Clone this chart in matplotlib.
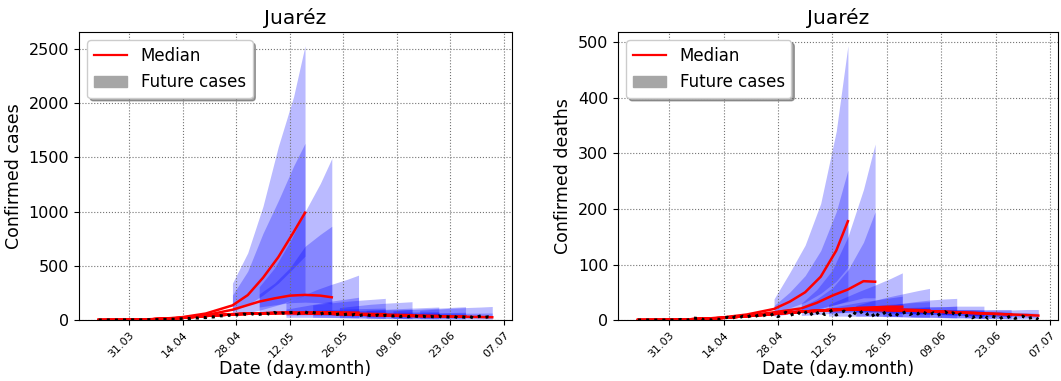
import matplotlib

matplotlib.use("Agg")
import matplotlib.dates as mdates
import matplotlib.pyplot as plt
import numpy as np
from matplotlib.lines import Line2D
from matplotlib.patches import Patch

FIRST_DAY = "2020-03-23"
FC_STARTS = ["2020-04-27", "2020-05-04", "2020-05-11", "2020-05-18",
             "2020-05-25", "2020-06-01", "2020-06-08", "2020-06-15"]
FC_OFFSETS = [0, 4, 8, 12, 16, 19]   # days after each forecast start
FIT_STEP = 7                          # fitted median read weekly from FIRST_DAY
TICK_DATES = ["2020-03-31", "2020-04-14", "2020-04-28", "2020-05-12",
              "2020-05-26", "2020-06-09", "2020-06-23", "2020-07-07"]

# ---- confirmed cases --------------------------------------------------------
CASES_OBS = [0, 0, 0, 1, 0, 0, 1, 1,
             1, 2, 0, 1, 2, 3, 2,
             4, 3, 6, 5, 8, 7, 10,
             12, 15, 14, 20, 18, 25, 22,
             30, 28, 35, 40, 33, 45, 38,
             50, 42, 55, 48, 60, 45, 52,
             58, 62, 50, 70, 55, 65, 60,
             68, 72, 58, 66, 75, 60, 70,
             62, 55, 68, 58, 64, 50, 57,
             48, 55, 45, 52, 40, 47, 50,
             42, 38, 46, 35, 44, 40, 37,
             45, 33, 39, 30, 42, 36, 28,
             35, 25, 32, 28, 38, 24, 30,
             27, 33, 22, 30, 25, 35, 20,
             28, 38, 24, 30, 26]
CASES_FIT = [
    [0, 2, 8, 22, 60],
    [0, 2, 8, 20, 45, 95],
    [0, 2, 7, 18, 38, 55, 62],
    [0, 2, 7, 18, 38, 52, 62, 66],
    [0, 2, 7, 18, 38, 52, 62, 66, 62],
    [0, 2, 7, 18, 38, 52, 62, 66, 62, 56],
    [0, 2, 7, 18, 38, 52, 62, 66, 62, 56, 48],
    [0, 2, 7, 18, 38, 52, 62, 66, 62, 56, 48, 42],
]
CASES_MED = [
    [135, 230, 390, 580, 810, 990],
    [170, 200, 225, 232, 225, 210],
    [65, 70, 72, 72, 70, 68],
    [62, 62, 60, 58, 56, 54],
    [55, 53, 51, 49, 47, 45],
    [48, 46, 44, 42, 40, 38],
    [40, 38, 36, 35, 34, 33],
    [36, 34, 32, 30, 28, 26],
]
CASES_HI95 = [
    [340, 620, 1050, 1600, 2060, 2530],
    [307, 480, 720, 1000, 1260, 1490],
    [160, 220, 280, 330, 375, 414],
    [140, 155, 170, 182, 192, 200],
    [115, 130, 145, 155, 163, 169],
    [90, 97, 104, 110, 116, 120],
    [85, 95, 103, 110, 118, 123],
    [90, 100, 108, 115, 120, 125],
]
CASES_HI50 = [
    [230, 450, 800, 1100, 1420, 1630],
    [240, 340, 480, 680, 790, 865],
    [100, 125, 150, 175, 195, 210],
    [90, 95, 100, 105, 108, 110],
    [80, 85, 90, 93, 96, 98],
    [68, 70, 72, 74, 76, 77],
    [60, 63, 66, 68, 70, 72],
    [58, 60, 62, 63, 64, 65],
]
CASES_LO50 = [
    [80, 140, 230, 340, 480, 590],
    [120, 140, 160, 165, 160, 150],
    [45, 48, 50, 50, 48, 46],
    [45, 44, 42, 40, 38, 36],
    [40, 38, 36, 34, 32, 30],
    [35, 33, 31, 29, 27, 26],
    [30, 28, 26, 25, 24, 23],
    [26, 24, 22, 20, 19, 18],
]
CASES_LO95 = [
    [40, 65, 100, 140, 190, 230],
    [60, 70, 80, 80, 80, 75],
    [25, 25, 25, 24, 22, 20],
    [25, 23, 21, 19, 17, 15],
    [22, 20, 18, 16, 14, 12],
    [18, 16, 14, 12, 11, 10],
    [15, 13, 12, 11, 10, 9],
    [12, 11, 10, 9, 8, 7],
]

# ---- confirmed deaths -------------------------------------------------------
DEATHS_OBS = [0, 0, 0, 0, 0, 0, 0, 0,
              0, 0, 0, 1, 0, 0,
              4, 3, 4, 0, 1, 0, 2,
              1, 3, 5, 2, 6, 4, 7,
              5, 8, 6, 9, 7, 10, 8,
              12, 6, 10, 14, 8, 11, 15,
              9, 13, 17, 7, 12, 16, 10,
              14, 18, 9, 13, 16, 11, 4,
              15, 12, 17, 10, 14, 3, 13,
              11, 16, 9, 13, 8, 12, 15,
              10, 14, 11, 16, 12, 9, 13,
              8, 12, 15, 10, 13, 7, 11,
              6, 9, 4, 8, 5, 10, 3,
              7, 5, 2, 6, 4, 8, 3,
              5, 7, 2, 4, 6, 1]
DEATHS_FIT = [
    [0, 0.3, 1.5, 4, 10],
    [0, 0.3, 1.5, 4, 8, 14],
    [0, 0.3, 1.5, 3.5, 7, 11, 15],
    [0, 0.3, 1.5, 3.5, 7, 11, 15, 18],
    [0, 0.3, 1.5, 3.5, 7, 11, 15, 18, 19],
    [0, 0.3, 1.5, 3.5, 7, 11, 15, 18, 19, 18],
    [0, 0.3, 1.5, 3.5, 7, 11, 15, 18, 19, 18, 17],
    [0, 0.3, 1.5, 3.5, 7, 11, 15, 18, 19, 18, 17, 15],
]
DEATHS_MED = [
    [20, 33, 50, 78, 125, 178],
    [21, 31, 44, 55, 70, 69],
    [18, 20, 22, 23, 24, 24],
    [20, 20, 20, 19, 18, 17],
    [19, 18, 17, 16, 15, 14],
    [17, 16, 15, 14, 13, 12],
    [15, 14, 13, 12, 11, 10],
    [13, 12, 11, 10, 9, 8],
]
DEATHS_HI95 = [
    [38, 85, 135, 210, 340, 494],
    [30, 55, 90, 150, 235, 317],
    [28, 40, 52, 63, 75, 85],
    [26, 34, 41, 47, 53, 57],
    [24, 29, 33, 36, 38, 39],
    [21, 23, 24, 25, 25, 25],
    [18, 19, 19, 19, 19, 19],
    [16, 17, 18, 18, 19, 19],
]
DEATHS_HI50 = [
    [26, 50, 80, 125, 195, 270],
    [24, 38, 58, 90, 140, 195],
    [22, 27, 32, 36, 40, 43],
    [22, 25, 28, 30, 32, 33],
    [21, 22, 23, 24, 24, 25],
    [18, 19, 19, 19, 19, 18],
    [16, 16, 16, 15, 15, 14],
    [14, 14, 14, 13, 13, 12],
]
DEATHS_LO50 = [
    [14, 22, 32, 48, 70, 95],
    [15, 20, 27, 33, 40, 40],
    [13, 14, 15, 15, 15, 15],
    [14, 14, 13, 12, 12, 11],
    [13, 12, 11, 10, 10, 9],
    [12, 11, 10, 9, 8, 7],
    [10, 9, 8, 7, 7, 6],
    [9, 8, 7, 6, 5, 5],
]
DEATHS_LO95 = [
    [7, 11, 15, 20, 28, 35],
    [8, 10, 12, 14, 16, 16],
    [7, 7, 7, 7, 7, 6],
    [7, 7, 6, 6, 5, 5],
    [7, 6, 5, 5, 4, 4],
    [6, 5, 5, 4, 4, 3],
    [5, 4, 4, 3, 3, 2],
    [4, 3, 3, 2, 2, 2],
]


def draw_panel(ax, obs, fit, med, lo95, hi95, lo50, hi50, ylabel):
    day0 = np.datetime64(FIRST_DAY)
    for k, start in enumerate(FC_STARTS):
        fc_x = np.datetime64(start) + np.array(FC_OFFSETS)
        fit_x = day0 + FIT_STEP * np.arange(len(fit[k]))
        ax.fill_between(fc_x, lo95[k], hi95[k], color="blue", alpha=0.27, lw=0)
        ax.fill_between(fc_x, lo50[k], hi50[k], color="blue", alpha=0.27, lw=0)
        ax.plot(np.concatenate([fit_x, fc_x]), list(fit[k]) + list(med[k]),
                color="red", lw=1.8)
    obs_x = day0 + np.arange(len(obs))
    ax.plot(obs_x, obs, color="black", ls=":", lw=2.2, zorder=5)

    ax.set_ylim(bottom=0)
    ax.set_xticks([np.datetime64(d) for d in TICK_DATES])
    ax.xaxis.set_major_formatter(mdates.DateFormatter("%d.%m"))
    ax.tick_params(axis="x", labelsize=8, rotation=45)
    ax.tick_params(axis="y", labelsize=11.5)
    for lab in ax.get_xticklabels():
        lab.set_ha("right")
        lab.set_rotation_mode("anchor")
    ax.grid(True, ls=":", color="0.45", lw=0.8)
    ax.set_title("Juaréz", fontsize=14.5)
    ax.set_xlabel("Date (day.month)", fontsize=12.5)
    ax.xaxis.set_label_coords(0.5, -0.14)
    ax.set_ylabel(ylabel, fontsize=12.5)

    handles = [Line2D([], [], color="red", lw=1.6),
               Patch(facecolor="#a6a6a6", edgecolor="#a6a6a6")]
    ax.legend(handles, ["Median", "Future cases"], loc="upper left",
              fontsize=12, shadow=True, framealpha=1)


def main() -> None:
    fig = plt.figure(figsize=(10.61, 3.81), dpi=100)
    ax1 = fig.add_axes([0.0745, 0.160, 0.408, 0.756])
    ax2 = fig.add_axes([0.5825, 0.160, 0.4150, 0.756])
    draw_panel(ax1, CASES_OBS, CASES_FIT, CASES_MED, CASES_LO95, CASES_HI95,
               CASES_LO50, CASES_HI50, "Confirmed cases")
    draw_panel(ax2, DEATHS_OBS, DEATHS_FIT, DEATHS_MED, DEATHS_LO95, DEATHS_HI95,
               DEATHS_LO50, DEATHS_HI50, "Confirmed deaths")
    fig.savefig("out.png", dpi=100)
    plt.close(fig)


if __name__ == "__main__":
    main()
